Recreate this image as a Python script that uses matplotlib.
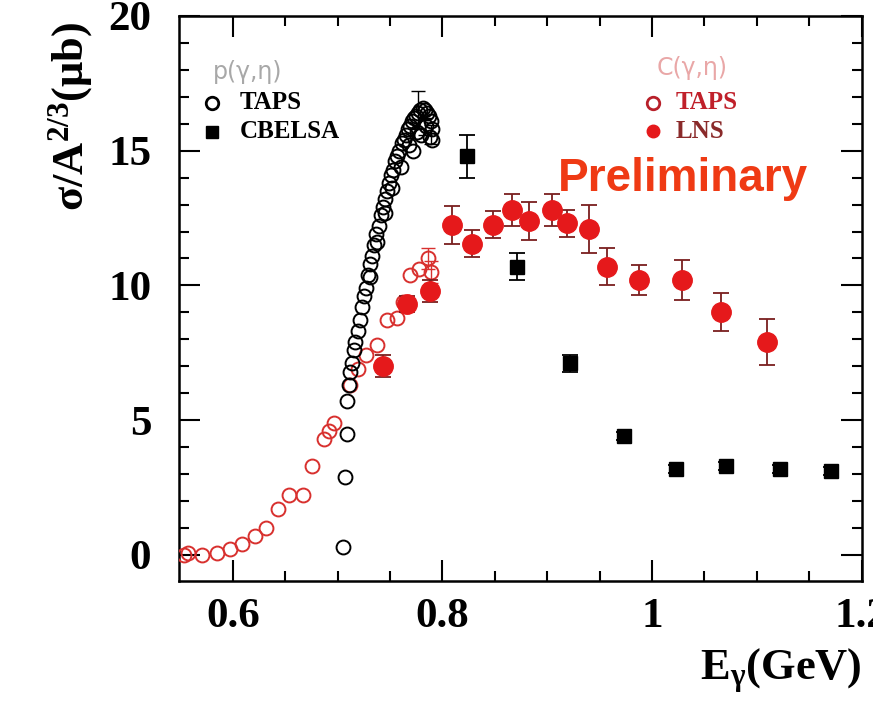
import matplotlib.pyplot as plt
import numpy as np

plt.rcParams['font.family'] = ['Liberation Serif', 'DejaVu Serif']
plt.rcParams['font.weight'] = 'bold'
plt.rcParams['axes.labelweight'] = 'bold'
plt.rcParams['mathtext.fontset'] = 'custom'
plt.rcParams['mathtext.rm'] = 'Liberation Serif:bold'
plt.rcParams['mathtext.it'] = 'Liberation Serif:bold'
plt.rcParams['mathtext.bf'] = 'Liberation Serif:bold'

# p(gamma,eta) TAPS
taps_p_x = [0.705, 0.707, 0.709, 0.709, 0.711, 0.712, 0.714, 0.716, 0.717, 0.719,
            0.721, 0.723, 0.725, 0.727, 0.729, 0.731, 0.733, 0.735, 0.737, 0.739,
            0.741, 0.743, 0.745, 0.747, 0.749, 0.751, 0.753, 0.755, 0.757, 0.759,
            0.761, 0.763, 0.765, 0.767, 0.769, 0.771, 0.773, 0.775, 0.777, 0.779,
            0.781, 0.783, 0.785, 0.787, 0.789, 0.790, 0.790,
            0.731, 0.738, 0.745, 0.752, 0.760, 0.768, 0.776, 0.784, 0.788, 0.772, 0.780]
taps_p_y = [0.3, 2.9, 4.5, 5.7, 6.3, 6.8, 7.1, 7.6, 7.9, 8.3,
            8.7, 9.2, 9.6, 9.9, 10.4, 10.8, 11.1, 11.5, 11.9, 12.2,
            12.6, 12.9, 13.2, 13.5, 13.8, 14.1, 14.3, 14.6, 14.8, 15.0,
            15.3, 15.4, 15.6, 15.8, 15.9, 16.1, 16.2, 16.3, 16.4, 16.5,
            16.6, 16.5, 16.4, 16.3, 16.1, 15.8, 15.4,
            10.3, 11.6, 12.7, 13.6, 14.4, 15.2, 15.7, 15.9, 15.5, 15.0, 15.6]
# points of that set with visible error bars
taps_p_ex = [0.777, 0.789, 0.783]
taps_p_ey = [16.5, 15.6, 15.9]
taps_p_ee = [0.7, 0.35, 0.3]

# p(gamma,eta) CBELSA
cbelsa_x = [0.823, 0.871, 0.922, 0.973, 1.023, 1.071, 1.122, 1.171]
cbelsa_y = [14.8, 10.7, 7.1, 4.4, 3.2, 3.3, 3.2, 3.1]
cbelsa_e = [0.8, 0.5, 0.3, 0.15, 0.15, 0.15, 0.15, 0.15]

# C(gamma,eta) TAPS
taps_c_x = [0.553, 0.557, 0.571, 0.585, 0.597, 0.609, 0.621, 0.632, 0.643, 0.654,
            0.667, 0.676, 0.687, 0.692, 0.697, 0.712, 0.719, 0.727, 0.738, 0.747,
            0.757, 0.762, 0.769, 0.778, 0.786, 0.789]
taps_c_y = [0.0, 0.05, 0.0, 0.05, 0.2, 0.4, 0.7, 1.0, 1.7, 2.2,
            2.2, 3.3, 4.3, 4.6, 4.9, 6.3, 6.9, 7.4, 7.8, 8.7,
            8.8, 9.4, 10.4, 10.6, 11.0, 10.5]
# points of that set with visible error bars
taps_c_ex = [0.786, 0.789]
taps_c_ey = [11.0, 10.5]
taps_c_ee = [0.4, 0.4]

# C(gamma,eta) LNS
lns_x = [0.743, 0.766, 0.788, 0.809, 0.828, 0.848, 0.866, 0.883, 0.905, 0.919,
         0.940, 0.957, 0.988, 1.029, 1.066, 1.110]
lns_y = [7.0, 9.3, 9.8, 12.25, 11.55, 12.25, 12.8, 12.4, 12.8, 12.3,
         12.1, 10.7, 10.2, 10.2, 9.0, 7.9]
lns_e = [0.4, 0.3, 0.4, 0.7, 0.5, 0.5, 0.6, 0.7, 0.6, 0.5,
         0.9, 0.7, 0.55, 0.75, 0.7, 0.85]

red = '#e5191b'
dark_red = '#7a1f1f'

fig = plt.figure(figsize=(8.73, 7.11), dpi=100)
ax = fig.add_axes([0.205, 0.183, 0.782, 0.7945])

ax.plot(taps_c_x, taps_c_y, 'o', mfc='none', mec='#d8302e', ms=10, mew=1.4, zorder=3)
ax.errorbar(taps_c_ex, taps_c_ey, yerr=taps_c_ee, fmt='none', ecolor='#d8302e',
            elinewidth=1.0, capsize=5, zorder=2)

ax.plot(taps_p_x, taps_p_y, 'o', mfc='none', mec='black', ms=10, mew=1.4, zorder=4)
ax.errorbar(taps_p_ex, taps_p_ey, yerr=taps_p_ee, fmt='none', ecolor='black',
            elinewidth=1.0, capsize=5, zorder=4)

ax.errorbar(lns_x, lns_y, yerr=lns_e, fmt='o', color=red, mec=red, ms=14,
            ecolor=dark_red, elinewidth=1.3, capsize=6, capthick=1.3, zorder=5)

ax.errorbar(cbelsa_x, cbelsa_y, yerr=cbelsa_e, fmt='s', color='black', ms=10,
            ecolor='black', elinewidth=1.3, capsize=6, capthick=1.3, zorder=6)

ax.set_xlim(0.5486, 1.2)
ax.set_ylim(-0.97, 20)
ax.set_xticks([0.6, 0.8, 1.0, 1.2])
ax.set_xticklabels(['0.6', '0.8', '1', '1.2'])
ax.set_xticks(np.arange(0.6, 1.2, 0.05), minor=True)
ax.set_yticks([0, 5, 10, 15, 20])
ax.set_yticks(np.arange(0, 21, 1), minor=True)
ax.tick_params(which='both', direction='in', top=True, right=True, width=1.5,
               labelsize=31)
ax.tick_params(which='major', length=15)
ax.tick_params(which='minor', length=7)
ax.tick_params(axis='x', pad=12)
ax.tick_params(axis='y', pad=20)
for s in ax.spines.values():
    s.set_linewidth(1.8)

ax.set_ylabel('σ/A$^{2/3}$(μb)', fontsize=32, fontweight='bold', loc='top')
ax.yaxis.set_label_coords(-0.123, 0.99)
ax.set_xlabel(r'E$_\gamma$(GeV)', fontsize=32, fontweight='bold', loc='right')
ax.xaxis.set_label_coords(1.0, -0.115)

# legend blocks
tr = ax.transAxes
ax.text(0.050, 0.901, 'p(γ,η)', transform=tr, fontsize=17, color='#a8a8a8',
        family='DejaVu Sans', fontweight='normal', va='center')
ax.plot([0.048], [0.846], 'o', mfc='none', mec='black', ms=9, mew=2, transform=tr, clip_on=False)
ax.plot([0.048], [0.795], 's', color='black', ms=9, transform=tr, clip_on=False)
ax.text(0.089, 0.846, 'TAPS', transform=tr, fontsize=18, va='center')
ax.text(0.089, 0.795, 'CBELSA', transform=tr, fontsize=18, va='center')

ax.text(0.700, 0.908, 'C(γ,η)', transform=tr, fontsize=17, color='#e9a7a7',
        family='DejaVu Sans', fontweight='normal', va='center')
ax.plot([0.695], [0.846], 'o', mfc='none', mec='#b8202a', ms=9, mew=2, transform=tr, clip_on=False)
ax.plot([0.695], [0.796], 'o', color=red, ms=9, transform=tr, clip_on=False)
ax.text(0.728, 0.846, 'TAPS', transform=tr, fontsize=18, va='center', color='#c0202a')
ax.text(0.728, 0.796, 'LNS', transform=tr, fontsize=18, va='center', color='#8a2a2a')

ax.text(0.555, 0.712, 'Preliminary', transform=tr, fontsize=33, color='#ef3a14',
        family='Liberation Sans', fontweight='bold', va='center')

fig.savefig('out.png', dpi=100)
